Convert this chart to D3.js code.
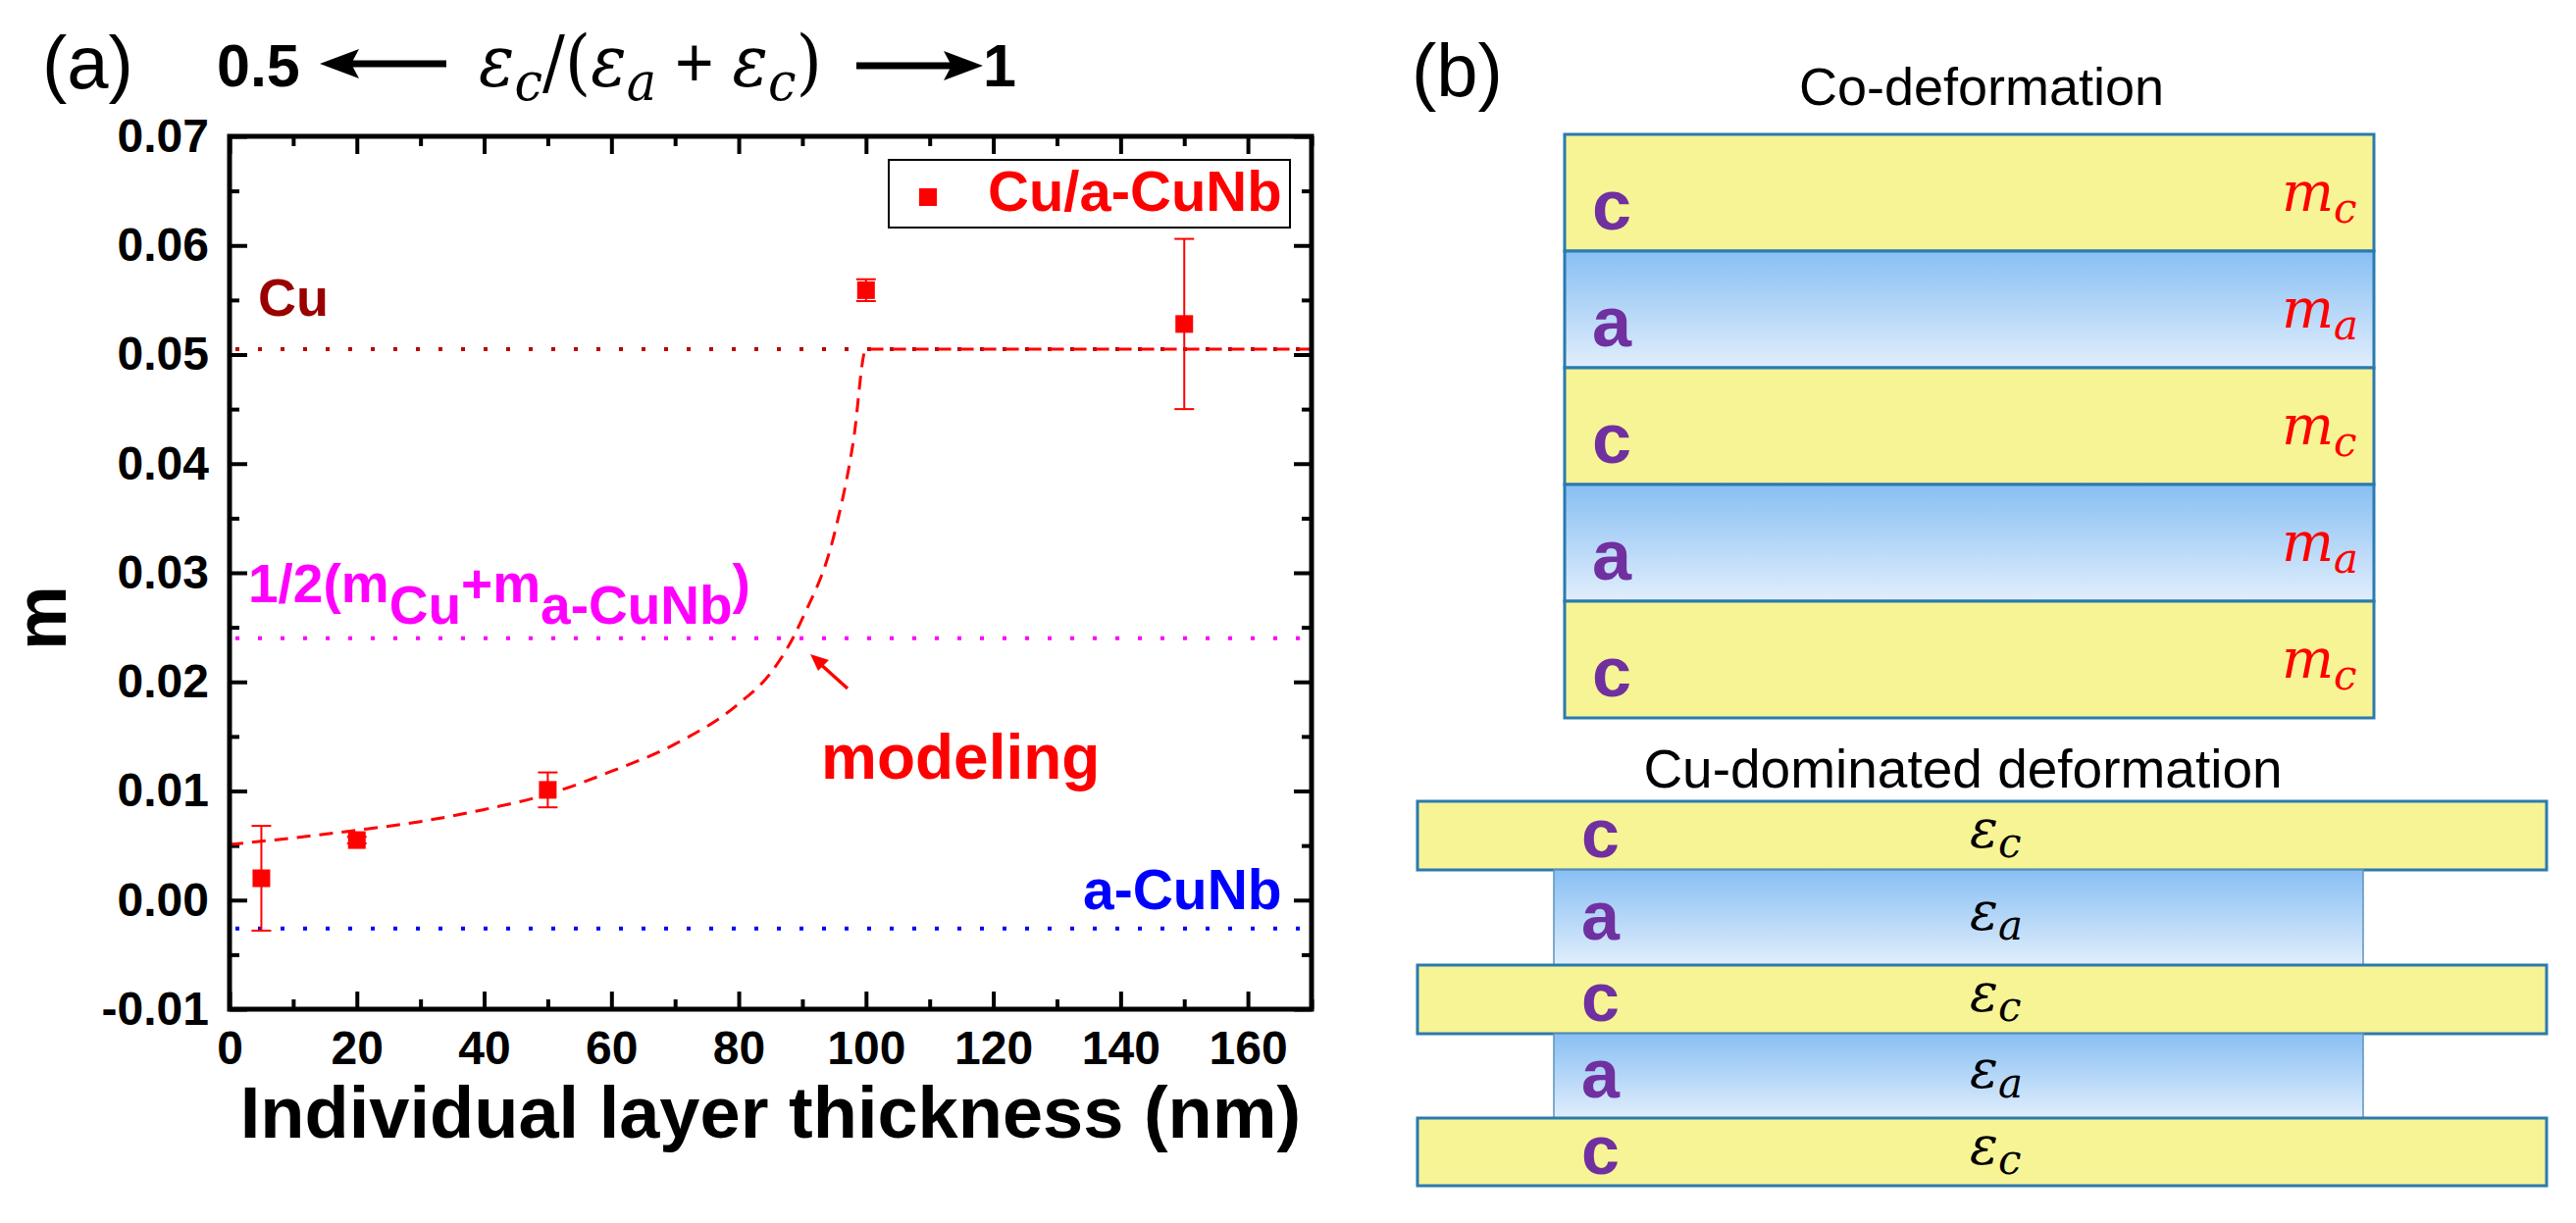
<!DOCTYPE html>
<html><head><meta charset="utf-8">
<script src="https://cdn.jsdelivr.net/npm/d3@7"></script>
<style>body{margin:0;background:#fff}</style>
</head><body>
<svg id="c" width="2626" height="1247" xmlns="http://www.w3.org/2000/svg"></svg>
<script>
// ---------- data ----------
const thickness = [5, 20, 50, 100, 150];
const mValues   = [0.0020, 0.0055, 0.0101, 0.0559, 0.0528];
const mErrors   = [0.0048, 0.0003, 0.0016, 0.0010, 0.0078];
const modelX = [0, 10, 20, 30, 40, 50, 60, 70, 80, 85, 88.5, 90, 95, 98, 100, 170];
const modelY = [0.0051, 0.0057, 0.0064, 0.0072, 0.0083, 0.0097, 0.0118, 0.0143, 0.0180, 0.0208, 0.0240, 0.0258, 0.0335, 0.0420, 0.0505, 0.0505];
const refValues = [0.0505, 0.0240, -0.0026];
const refColors = ["#C00000", "#FF00FF", "#0000FF"];
const xTicks = [0, 20, 40, 60, 80, 100, 120, 140, 160];
const xMinor = [10, 30, 50, 70, 90, 110, 130, 150, 170];
const yTicks = [-0.01, 0.00, 0.01, 0.02, 0.03, 0.04, 0.05, 0.06, 0.07];
const yMinor = [-0.005, 0.005, 0.015, 0.025, 0.035, 0.045, 0.055, 0.065];
const xDomain = [0, 170];
const yDomain = [-0.01, 0.07];
const seriesName = "Cu/a-CuNb";
const xTitle = "Individual layer thickness (nm)";
const yTitle = "m";
const coLayers = ["c", "a", "c", "a", "c"];
const cuLayers = ["c", "a", "c", "a", "c"];

// ---------- setup ----------
const SANS = "'Liberation Sans', Arial, Helvetica, sans-serif";
const SERIF = "'DejaVu Serif', 'Liberation Serif', serif";
const svg = d3.select("#c");
const defs = svg.append("defs");
const grad = defs.append("linearGradient").attr("id", "blueGrad")
  .attr("x1", 0).attr("y1", 0).attr("x2", 0).attr("y2", 1);
grad.append("stop").attr("offset", "0%").attr("stop-color", "#88BFF3");
grad.append("stop").attr("offset", "100%").attr("stop-color", "#E1EEFC");

const L = 234, R = 1337, T = 139, B = 1029;
const x = d3.scaleLinear().domain(xDomain).range([L, R]);
const y = d3.scaleLinear().domain(yDomain).range([B, T]);
const g = svg.append("g");

// axes (inward ticks)
function styleAxis(sel, size) {
  sel.select(".domain").remove();
  sel.selectAll(".tick line").attr("stroke", "#000").attr("stroke-width", 4);
  sel.selectAll(".tick text").attr("fill", "#000").attr("font-family", SANS)
    .attr("font-weight", "bold").attr("font-size", size);
}
const ay = g.append("g").attr("transform", `translate(${L},0)`)
  .call(d3.axisLeft(y).tickValues(yTicks).tickSize(-18).tickPadding(21).tickFormat(d3.format(".2f")));
styleAxis(ay, 48);
ay.selectAll(".tick text").text(d => d3.format(".2f")(d).replace("−", "-"));
const ayM = g.append("g").attr("transform", `translate(${L},0)`)
  .call(d3.axisLeft(y).tickValues(yMinor).tickSize(-10).tickFormat(""));
styleAxis(ayM, 0);
const ar = g.append("g").attr("transform", `translate(${R},0)`)
  .call(d3.axisRight(y).tickValues(yTicks).tickSize(-18).tickFormat(""));
styleAxis(ar, 0);
const arM = g.append("g").attr("transform", `translate(${R},0)`)
  .call(d3.axisRight(y).tickValues(yMinor).tickSize(-10).tickFormat(""));
styleAxis(arM, 0);
const ax = g.append("g").attr("transform", `translate(0,${B})`)
  .call(d3.axisBottom(x).tickValues(xTicks).tickSize(-18).tickPadding(22));
styleAxis(ax, 48);
const axM = g.append("g").attr("transform", `translate(0,${B})`)
  .call(d3.axisBottom(x).tickValues(xMinor).tickSize(-10).tickFormat(""));
styleAxis(axM, 0);
const at = g.append("g").attr("transform", `translate(0,${T})`)
  .call(d3.axisTop(x).tickValues(xTicks).tickSize(-18).tickFormat(""));
styleAxis(at, 0);
const atM = g.append("g").attr("transform", `translate(0,${T})`)
  .call(d3.axisTop(x).tickValues(xMinor).tickSize(-10).tickFormat(""));
styleAxis(atM, 0);

// reference dotted lines
g.selectAll("line.ref").data(refValues).join("line").attr("class", "ref")
  .attr("x1", x(xDomain[0]) + 6).attr("x2", x(xDomain[1]))
  .attr("y1", d => y(d)).attr("y2", d => y(d))
  .attr("stroke", (d, i) => refColors[i]).attr("stroke-width", 4)
  .attr("stroke-dasharray", "4,19");

// model curve
const modelLine = d3.line().x((d, i) => x(modelX[i])).y(d => y(d)).curve(d3.curveMonotoneX);
g.append("path").attr("d", modelLine(modelY)).attr("fill", "none")
  .attr("stroke", "#FF0000").attr("stroke-width", 3).attr("stroke-dasharray", "14,9");

// error bars
const eb = g.selectAll("g.eb").data(thickness).join("g").attr("class", "eb");
eb.append("line").attr("x1", d => x(d)).attr("x2", d => x(d))
  .attr("y1", (d, i) => y(mValues[i] - mErrors[i])).attr("y2", (d, i) => y(mValues[i] + mErrors[i]))
  .attr("stroke", "#FF0000").attr("stroke-width", 2);
[-1, 1].forEach(s => {
  eb.append("line").attr("x1", d => x(d) - 10).attr("x2", d => x(d) + 10)
    .attr("y1", (d, i) => y(mValues[i] + s * mErrors[i])).attr("y2", (d, i) => y(mValues[i] + s * mErrors[i]))
    .attr("stroke", "#FF0000").attr("stroke-width", 2);
});
g.selectAll("rect.pt").data(thickness).join("rect").attr("class", "pt")
  .attr("x", d => x(d) - 9).attr("y", (d, i) => y(mValues[i]) - 9)
  .attr("width", 18).attr("height", 18).attr("fill", "#FF0000");

// frame
g.append("rect").attr("x", L).attr("y", T).attr("width", R - L).attr("height", B - T)
  .attr("fill", "none").attr("stroke", "#000").attr("stroke-width", 5);

// axis titles
g.append("text").attr("x", (L + R) / 2).attr("y", 1160).attr("text-anchor", "middle")
  .attr("font-family", SANS).attr("font-weight", "bold").attr("font-size", 74).text(xTitle);
g.append("text").attr("transform", "translate(67,630) rotate(-90)").attr("text-anchor", "middle")
  .attr("font-family", SANS).attr("font-weight", "bold").attr("font-size", 74).text(yTitle);

// legend
g.append("rect").attr("x", 906).attr("y", 163).attr("width", 409).attr("height", 69)
  .attr("fill", "#fff").attr("stroke", "#000").attr("stroke-width", 2);
g.append("rect").attr("x", 937).attr("y", 192).attr("width", 18).attr("height", 18).attr("fill", "#FF0000");
g.append("text").attr("x", 1007).attr("y", 215).attr("font-family", SANS).attr("font-weight", "bold")
  .attr("font-size", 58).attr("fill", "#FF0000").text(seriesName);

// reference labels
g.append("text").attr("x", 263).attr("y", 322).attr("font-family", SANS).attr("font-weight", "bold")
  .attr("font-size", 54).attr("fill", "#990000").text("Cu");
const half = g.append("text").attr("x", 253).attr("y", 614).attr("font-family", SANS)
  .attr("font-weight", "bold").attr("font-size", 55).attr("fill", "#FF00FF");
half.append("tspan").text("1/2(m");
half.append("tspan").attr("dy", 22).text("Cu");
half.append("tspan").attr("dy", -22).text("+m");
half.append("tspan").attr("dy", 22).text("a-CuNb");
half.append("tspan").attr("dy", -22).text(")");
g.append("text").attr("x", 1104).attr("y", 927).attr("font-family", SANS).attr("font-weight", "bold")
  .attr("font-size", 57).attr("fill", "#0000FF").text("a-CuNb");
g.append("text").attr("x", 837).attr("y", 794).attr("font-family", SANS).attr("font-weight", "bold")
  .attr("font-size", 64).attr("fill", "#FF0000").text("modeling");
// annotation arrow
g.append("line").attr("x1", 864).attr("y1", 702).attr("x2", 834).attr("y2", 675)
  .attr("stroke", "#FF0000").attr("stroke-width", 3.5);
g.append("path").attr("d", "M826,667 L845,673 L834,684 Z").attr("fill", "#FF0000");

// panel labels
svg.append("text").attr("x", 43).attr("y", 90).attr("font-family", SANS).attr("font-size", 76).text("(a)");
svg.append("text").attr("x", 1439).attr("y", 98).attr("font-family", SANS).attr("font-size", 76).text("(b)");

// top ratio annotation
svg.append("text").attr("x", 221).attr("y", 88).attr("font-family", SANS).attr("font-weight", "bold")
  .attr("font-size", 61).text("0.5");
svg.append("line").attr("x1", 455).attr("x2", 350).attr("y1", 65).attr("y2", 65).attr("stroke", "#000").attr("stroke-width", 7);
svg.append("path").attr("d", "M326,65 L366,50 L358,65 L366,80 Z").attr("fill", "#000");
svg.append("line").attr("x1", 873).attr("x2", 975).attr("y1", 67).attr("y2", 67).attr("stroke", "#000").attr("stroke-width", 7);
svg.append("path").attr("d", "M1002,67 L962,52 L970,67 L962,82 Z").attr("fill", "#000");
svg.append("text").attr("x", 1002).attr("y", 88).attr("font-family", SANS).attr("font-weight", "bold")
  .attr("font-size", 61).text("1");
const fg = svg.append("g");
const f = fg.append("text").attr("x", 0).attr("y", 0).attr("font-family", SERIF).attr("font-size", 72);
function mathPart(t, txt, italic, sub) {
  const s = t.append("tspan").text(txt).attr("font-style", italic ? "italic" : "normal");
  if (sub) s.attr("font-size", 54).attr("dy", 14);
  return s;
}
mathPart(f, "ε", true);
mathPart(f, "c", true, true);
f.append("tspan").attr("dy", -14).text("/(");
mathPart(f, "ε", true);
mathPart(f, "a", true, true);
f.append("tspan").attr("dy", -14).attr("font-family", SANS).attr("font-weight", "normal").text(" + ");
mathPart(f, "ε", true);
mathPart(f, "c", true, true);
f.append("tspan").attr("dy", -14).text(")");
{
  const bb = f.node().getBBox();
  const sx = 350 / bb.width;
  fg.attr("transform", `translate(${488 - bb.x * sx},88) scale(${sx},1)`);
}

// ---------- panel (b) ----------
const pb = svg.append("g");
pb.append("text").attr("x", 2020).attr("y", 107).attr("text-anchor", "middle")
  .attr("font-family", SANS).attr("font-size", 54).text("Co-deformation");
const coTop = 137, coH = 119, coL = 1595, coR = 2420;
const co = pb.selectAll("g.co").data(coLayers).join("g").attr("class", "co");
co.append("rect").attr("x", coL).attr("y", (d, i) => coTop + i * coH).attr("width", coR - coL).attr("height", coH)
  .attr("fill", d => d === "c" ? "#F7F495" : "url(#blueGrad)").attr("stroke", "#2A7AB0").attr("stroke-width", 3);
co.append("text").attr("x", 1623).attr("y", (d, i) => coTop + (i + 1) * coH - 22)
  .attr("font-family", SANS).attr("font-weight", "bold").attr("font-size", 72).attr("fill", "#7030A0").text(d => d);
co.each(function (d, i) {
  const t = d3.select(this).append("text").attr("x", 2326).attr("y", coTop + i * coH + 78)
    .attr("font-family", SERIF).attr("font-style", "italic").attr("font-size", 56).attr("fill", "#FF0000");
  t.append("tspan").text("m");
  t.append("tspan").attr("font-size", 42).attr("dy", 12).text(d);
});

pb.append("text").attr("x", 2001).attr("y", 803).attr("text-anchor", "middle")
  .attr("font-family", SANS).attr("font-size", 55).text("Cu-dominated deformation");
const cuY = [817, 887, 984, 1054, 1140, 1209];
const cuWide = [1445, 2596], cuNarrow = [1584, 2409];
const cu = pb.selectAll("g.cu").data(cuLayers).join("g").attr("class", "cu");
cu.filter(d => d === "a").append("rect")
  .attr("x", cuNarrow[0]).attr("width", cuNarrow[1] - cuNarrow[0])
  .attr("y", (d, i) => cuY[i * 2 + 1]).attr("height", (d, i) => cuY[i * 2 + 2] - cuY[i * 2 + 1])
  .attr("fill", "url(#blueGrad)").attr("stroke", "#5E93BF").attr("stroke-width", 1.5);
cu.filter(d => d === "c").append("rect")
  .attr("x", cuWide[0]).attr("width", cuWide[1] - cuWide[0])
  .attr("y", (d, i) => cuY[i * 2]).attr("height", (d, i) => cuY[i * 2 + 1] - cuY[i * 2])
  .attr("fill", "#F7F495").attr("stroke", "#2A7AB0").attr("stroke-width", 3);
cu.each(function (d, i) {
  const mid = (cuY[i] + cuY[i + 1]) / 2;
  d3.select(this).append("text").attr("x", 1612).attr("y", mid + 22)
    .attr("font-family", SANS).attr("font-weight", "bold").attr("font-size", 70).attr("fill", "#7030A0").text(d);
  const t = d3.select(this).append("text").attr("x", 2008).attr("y", mid + 12)
    .attr("font-family", SERIF).attr("font-style", "italic").attr("font-size", 54).attr("fill", "#000");
  t.append("tspan").text("ε");
  t.append("tspan").attr("font-size", 42).attr("dy", 10).text(d);
});
</script>
</body></html>
